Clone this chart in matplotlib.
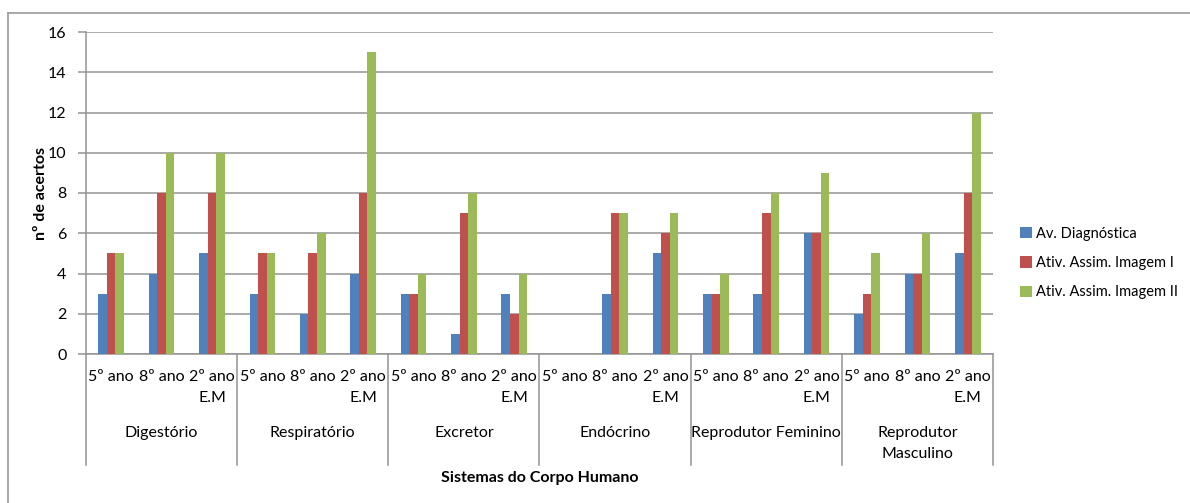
import matplotlib.pyplot as plt
import matplotlib.transforms as mtransforms
from matplotlib.lines import Line2D
import numpy as np

plt.rcParams["font.family"] = ["Lato", "DejaVu Sans"]

# data
sistemas = ["Digestório", "Respiratório", "Excretor", "Endócrino",
            "Reprodutor Feminino", "Reprodutor\nMasculino"]
anos = ["5º ano", "8º ano", "2º ano\nE.M"]

av_diagnostica = [3, 4, 5, 3, 2, 4, 3, 1, 3, 0, 3, 5, 3, 3, 6, 2, 4, 5]
ativ_imagem_1 = [5, 8, 8, 5, 5, 8, 3, 7, 2, 0, 7, 6, 3, 7, 6, 3, 4, 8]
ativ_imagem_2 = [5, 10, 10, 5, 6, 15, 4, 8, 4, 0, 7, 7, 4, 8, 9, 5, 6, 12]

series = [("Av. Diagnóstica", av_diagnostica, "#4F81BD"),
          ("Ativ. Assim. Imagem I", ativ_imagem_1, "#C0504D"),
          ("Ativ. Assim. Imagem II", ativ_imagem_2, "#9BBB59")]

W, H = 1190, 503
fs = 11.5
fig = plt.figure(figsize=(W / 100, H / 100), dpi=100)
ax = fig.add_axes([86 / W, 1 - 354 / H, (993 - 86) / W, (354 - 32) / H])

n = len(av_diagnostica)
x = np.arange(n) + 0.5
bw = 0.17
for k, (name, vals, col) in enumerate(series):
    ax.bar(x + (k - 1) * bw, vals, width=bw, color=col, label=name, zorder=3)

ax.set_xlim(0, n)
ax.set_ylim(0, 16)
ax.set_yticks(range(0, 17, 2))
ax.yaxis.grid(True, color="#939393", linewidth=1.1, zorder=0)
ax.tick_params(axis="y", length=6, width=1.1, color="#939393", pad=8,
               labelsize=fs)
ax.set_xticks([])
for s in ["top", "right"]:
    ax.spines[s].set_visible(False)
for s in ["left", "bottom"]:
    ax.spines[s].set_color("#939393")
    ax.spines[s].set_linewidth(1.1)

trans = mtransforms.blended_transform_factory(ax.transData, ax.transAxes)
px = 1 / (354 - 32)  # one pixel in axes units

# separators of the category groups
for g in range(len(sistemas) + 1):
    ax.plot([g * 3, g * 3], [0, -(465 - 354) * px], transform=trans,
            color="#939393", linewidth=1.1, clip_on=False)

# inner labels
for i in range(n):
    ax.text(x[i], -(370 - 354) * px, anos[i % 3], transform=trans,
            ha="center", va="top", fontsize=fs, linespacing=1.65)

# outer labels
for g, name in enumerate(sistemas):
    ax.text(g * 3 + 1.5, -(426 - 354) * px, name, transform=trans,
            ha="center", va="top", fontsize=fs, linespacing=1.65)

ax.set_xlabel("Sistemas do Corpo Humano", fontsize=fs, fontweight="bold")
ax.xaxis.set_label_coords(0.5, -(471 - 354) * px)
ax.set_ylabel("nº de acertos", fontsize=fs, fontweight="bold")
ax.yaxis.set_label_coords(-(86 - 48) / (993 - 86), 0.5)

leg = ax.legend(loc="center left", bbox_to_anchor=(1014 / W, 1 - 263 / H),
                bbox_transform=fig.transFigure, frameon=False, fontsize=10.5,
                handlelength=0.8, handleheight=0.8, handletextpad=0.3,
                labelspacing=1.05, borderaxespad=0)

# chart area border (left and top visible)
fig.add_artist(Line2D([8 / W, 8 / W], [0, 1 - 13 / H], color="#9a9a9a",
                      linewidth=1.2, transform=fig.transFigure))
fig.add_artist(Line2D([8 / W, 1], [1 - 13 / H, 1 - 13 / H], color="#9a9a9a",
                      linewidth=1.2, transform=fig.transFigure))

fig.savefig("out.png", dpi=100)
